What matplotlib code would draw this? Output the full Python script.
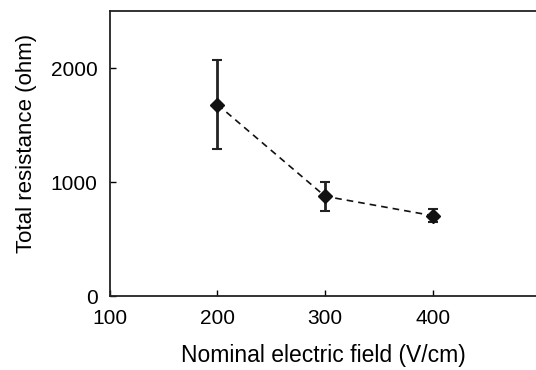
import matplotlib
matplotlib.use('Agg')
import matplotlib.pyplot as plt

# Datos
field = [200, 300, 400]
resistance = [1680, 875, 705]
error = [390, 125, 60]

plt.rcParams['font.family'] = ['Liberation Sans', 'DejaVu Sans']

fig = plt.figure(figsize=(5.36, 3.70), dpi=100)
ax = fig.add_axes([0.205, 0.2, 0.795, 0.77])

ax.errorbar(field, resistance, yerr=error, fmt='D', color='#111111',
            markersize=7, ecolor='#222222', elinewidth=2, capsize=3.3,
            capthick=1.5, zorder=3)
ax.plot(field, resistance, linestyle='--', color='#111111', linewidth=1.2,
        dashes=(4, 3))

ax.set_xlim(100, 496)
ax.set_ylim(0, 2500)
ax.set_xticks([100, 200, 300, 400])
ax.set_yticks([0, 1000, 2000])
ax.tick_params(direction='in', length=4.5, width=1, labelsize=15, pad=9)
ax.tick_params(axis='x', pad=9)
ax.spines['right'].set_visible(False)
for s in ['left', 'bottom', 'top']:
    ax.spines[s].set_linewidth(1.3)
    ax.spines[s].set_color('#222222')

ax.set_xlabel('Nominal electric field (V/cm)', fontsize=16.5, labelpad=12)
ax.set_ylabel('Total resistance (ohm)', fontsize=16)
ax.yaxis.set_label_coords(-0.172, 0.535)

plt.savefig('out.png', dpi=100, facecolor='white')
